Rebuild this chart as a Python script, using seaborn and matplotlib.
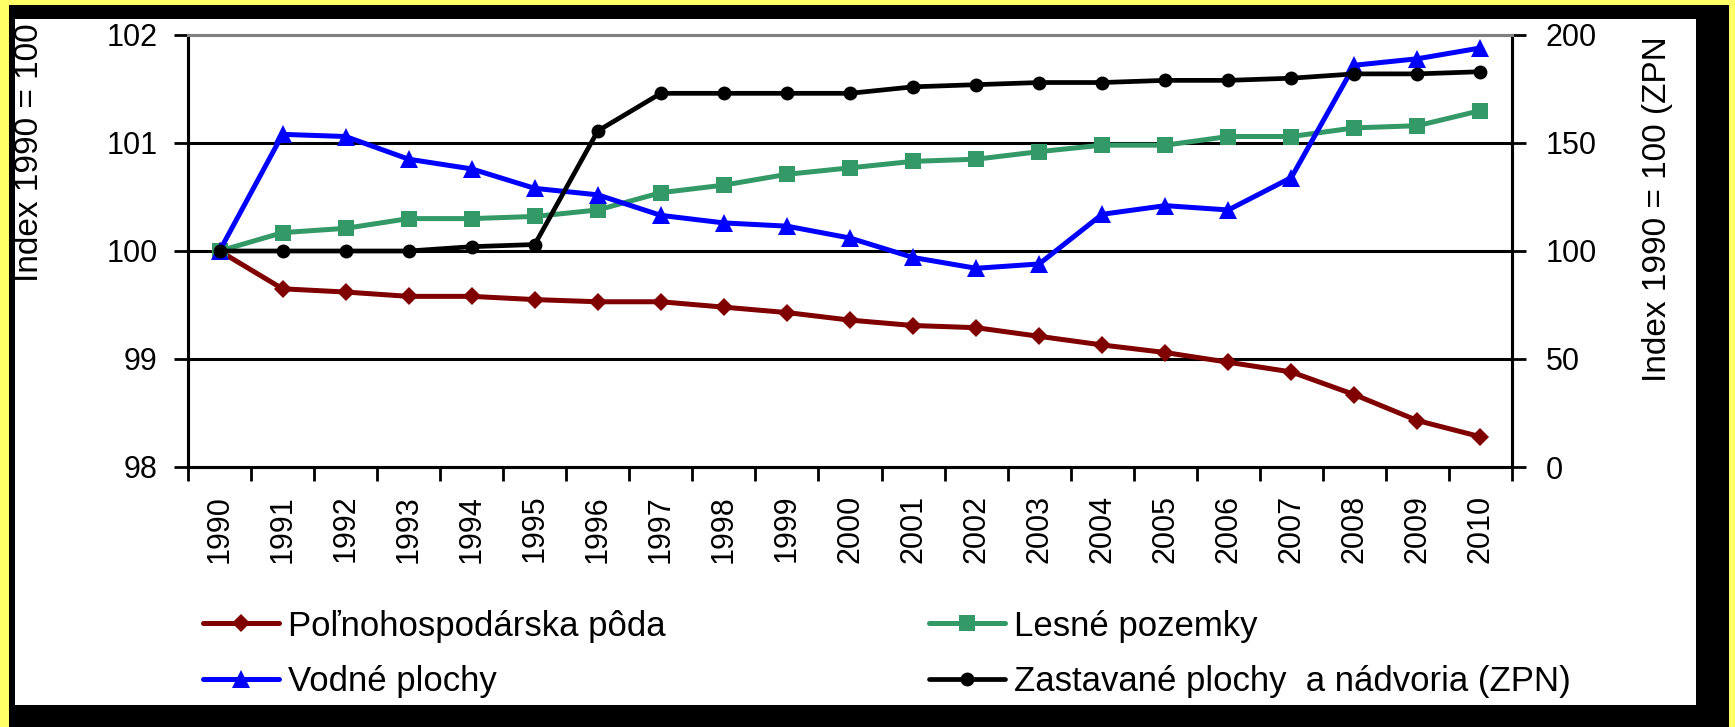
import matplotlib
matplotlib.use("Agg")
import matplotlib.pyplot as plt
import seaborn as sns
import pandas as pd
from matplotlib.patches import Rectangle
from matplotlib.lines import Line2D

years = list(range(1990, 2011))
polnohospodarska = [100, 99.65, 99.62, 99.58, 99.58, 99.55, 99.53, 99.53, 99.48, 99.43, 99.36,
                    99.31, 99.29, 99.21, 99.13, 99.06, 98.97, 98.88, 98.67, 98.43, 98.28]
lesne = [100, 100.17, 100.21, 100.30, 100.30, 100.32, 100.38, 100.54, 100.61, 100.71, 100.77,
         100.83, 100.85, 100.92, 100.98, 100.98, 101.06, 101.06, 101.14, 101.16, 101.30]
vodne = [100, 101.08, 101.06, 100.85, 100.76, 100.58, 100.52, 100.33, 100.26, 100.23, 100.12,
         99.94, 99.84, 99.88, 100.34, 100.42, 100.38, 100.68, 101.72, 101.78, 101.88]
zpn = [100, 100, 100, 100, 102, 103, 155.6, 173, 173, 173, 173,
       176, 177, 178, 178, 179, 179, 180, 182, 182, 183]

labels = ["Poľnohospodárska pôda", "Lesné pozemky", "Vodné plochy",
          "Zastavané plochy  a nádvoria (ZPN)"]

sns.set_style("white")
plt.rcParams["font.family"] = ["Liberation Sans", "DejaVu Sans"]
plt.rcParams["text.color"] = "black"
plt.rcParams["xtick.color"] = "black"
plt.rcParams["ytick.color"] = "black"

df = pd.DataFrame({"rok": years, "pol": polnohospodarska, "les": lesne,
                   "vod": vodne, "zpn": zpn})

fig = plt.figure(figsize=(17.35, 7.27), dpi=100, facecolor="#FFFF66")
W, H = 1735, 727
fig.patches.append(Rectangle((9 / W, 0), 1720 / W, 722 / H, transform=fig.transFigure,
                             facecolor="black", edgecolor="none", zorder=-2))
fig.patches.append(Rectangle((15 / W, 1 - 705 / H), 1681 / W, 686 / H, transform=fig.transFigure,
                             facecolor="white", edgecolor="none", zorder=-1))

ax = fig.add_axes([188 / W, 1 - 467 / H, (1512 - 188) / W, (467 - 35) / H])
ax.set_facecolor("none")

sns.lineplot(data=df, x="rok", y="pol", ax=ax, color="#800000", lw=3.6,
             marker="D", markersize=9, markeredgewidth=0)
sns.lineplot(data=df, x="rok", y="les", ax=ax, color="#339966", lw=3.6,
             marker="s", markersize=12, markeredgewidth=0)
sns.lineplot(data=df, x="rok", y="vod", ax=ax, color="#0000FF", lw=3.6,
             marker="^", markersize=13, markeredgewidth=0)

ax2 = ax.twinx()
sns.lineplot(data=df, x="rok", y="zpn", ax=ax2, color="black", lw=3.4,
             marker="o", markersize=10, markeredgewidth=0)

ax.set_xlim(1989.5, 2010.5)
ax.set_ylim(98, 102)
ax2.set_ylim(0, 200)
ax.set_yticks([98, 99, 100, 101, 102])
ax2.set_yticks([0, 50, 100, 150, 200])
ax.set_xticks(years)
ax.set_xticklabels([str(y) for y in years], rotation=90)
ax.set_xticks([y - 0.5 for y in years] + [2010.5], minor=True)
ax.set_xlabel("")
ax.set_ylabel("")
ax2.set_ylabel("")

ax.grid(False)
ax2.grid(False)
for yv in [99, 100, 101]:
    ax.axhline(yv, color="black", lw=2.2, zorder=0.5)

for a in (ax, ax2):
    for s in a.spines.values():
        s.set_color("black")
        s.set_linewidth(2.2)
    a.spines["top"].set_color("#808080")

ax.tick_params(axis="y", direction="out", length=10, width=2, pad=12,
               labelsize=22, left=True)
ax.tick_params(axis="x", which="major", length=0, pad=20, labelsize=22)
ax.tick_params(axis="x", which="minor", direction="out", length=10, width=2, bottom=True)
ax2.tick_params(axis="y", direction="out", length=10, width=2, pad=14,
                labelsize=22, right=True)

fig.text(30 / W, 1 - 153 / H, "Index 1990 = 100", rotation=90, ha="center", va="center",
         fontsize=24)
fig.text(1657 / W, 1 - 382 / H, "Index 1990 = 100 (ZPN", rotation=90, ha="center",
         va="bottom", fontsize=24)

handles = [
    Line2D([], [], color="#800000", lw=3.6, marker="D", markersize=9, markeredgewidth=0),
    Line2D([], [], color="#0000FF", lw=3.6, marker="^", markersize=13, markeredgewidth=0),
    Line2D([], [], color="#339966", lw=3.6, marker="s", markersize=12, markeredgewidth=0),
    Line2D([], [], color="black", lw=3.4, marker="o", markersize=10, markeredgewidth=0),
]
leg_labels = [labels[0], labels[2], labels[1], labels[3]]
fig.legend(handles, leg_labels, ncol=2, loc="center left",
           bbox_to_anchor=(203 / W, 1 - 654 / H), frameon=False, fontsize=25,
           handlelength=2.2, handletextpad=0.25, columnspacing=7.58,
           labelspacing=0.66, borderpad=0, borderaxespad=0)

fig.savefig("out.png", dpi=100, facecolor=fig.get_facecolor())
